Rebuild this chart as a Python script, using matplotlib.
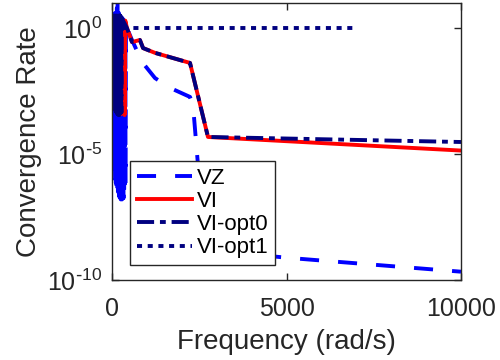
import numpy as np
import matplotlib
matplotlib.use("Agg")
import matplotlib.pyplot as plt
from matplotlib.ticker import NullLocator, FixedLocator, FixedFormatter

plt.rcParams['font.family'] = ['Liberation Sans', 'DejaVu Sans']
plt.rcParams['mathtext.default'] = 'regular'

# ---- data (frequency in rad/s, convergence rate given as log10 exponent) ----
vz_freq = [0, 10, 20, 30, 40, 50, 60, 70, 80, 90, 100, 110, 120, 130, 140, 150, 160, 170,
           180, 190, 200, 210, 220, 230, 240, 250, 260, 270, 280, 290, 300, 310, 320, 330,
           340, 350, 360, 370, 380, 390, 400,
           430, 573, 860, 1232, 1662, 2235, 2321, 2665, 5043, 10000]
vz_exp = [0.5, -4.7, 0.6, -5.2, 0.55, -5.5, 0.65, -5.8, 0.6, -6.0, 0.7, -6.15, 0.65, -6.3,
          0.8, -6.4, 1.2, -6.5, 0.7, -6.6, 0.6, -6.7, 0.5, -6.75, 0.5, -6.8, 0.45, -6.8,
          0.4, -6.8, 0.4, -6.8, 0.35, -6.75, 0.3, -6.7, 0.3, -6.5, 0.25, -6.2, 0.2,
          0.0, -0.47, -1.34, -1.98, -2.37, -2.73, -3.05, -8.8, -9.12, -9.67]

vi_freq = [0, 10, 20, 30, 40, 50, 60, 70, 80, 90, 100, 110, 120, 130, 140, 150, 160, 170,
           180, 190, 200, 210, 220, 230, 240, 250, 260, 270, 280, 290, 300,
           340, 360, 380,
           430, 573, 800, 890, 1232, 2235, 2750, 10000]
vi_exp = [0.3, -2.75, 0.3, -2.9, 0.3, -3.0, 0.3, -3.1, 0.3, -3.15, 0.3, -3.2, 0.3, -3.25,
          0.3, -3.3, 0.3, -3.35, 0.3, -3.35, 0.3, -3.4, 0.3, -3.4, 0.3, -3.4, 0.3, -3.4,
          0.3, -3.35, 0.3,
          0.3, -3.45, 0.3,
          0.0, -0.55, -0.47, -0.79, -0.98, -1.38, -4.32, -4.86]

opt0_freq = [0, 10, 20, 30, 40, 50, 60, 70, 80, 90, 100, 110, 120, 130, 140, 150, 160, 170,
             180, 190, 200, 210, 220, 230, 240, 250, 260, 270, 280,
             430, 573, 800, 890, 1232, 2235, 2750, 10000]
opt0_exp = [0.5, -2.85, 0.5, -3.0, 0.5, -3.1, 0.5, -3.2, 0.5, -3.25, 0.5, -3.3, 0.5, -3.35,
            0.5, -3.4, 0.5, -3.42, 0.5, -3.45, 0.5, -3.45, 0.5, -3.45, 0.5, -3.42, 0.5,
            -3.35, 0.4,
            0.0, -0.55, -0.47, -0.79, -0.98, -1.38, -4.32, -4.52]

opt1_freq = [0, 7000]
opt1_exp = [0.0, 0.0]

labels = ['VZ', 'VI', 'VI-opt0', 'VI-opt1']
xticks = [0, 5000, 10000]
xticklabels = ['0', '5000', '10000']
yticks = [1e-10, 1e-5, 1e0]
yticklabels = [r'$10^{\text{-}10}$', r'$10^{\text{-}5}$', r'$10^{0}$']

# ---- figure ----
fig = plt.figure(figsize=(5, 3.6), dpi=100)
ax = fig.add_axes([112/500, 1-280/360, (461-112)/500, (280-3)/360])

lw = 2.8
ax.plot(vz_freq, 10.0**np.array(vz_exp), color=(0, 0, 1), lw=lw, dashes=(4.9, 4.9),
        label=labels[0])
ax.plot(vi_freq, 10.0**np.array(vi_exp), color=(1, 0, 0), lw=lw, label=labels[1])
ax.plot(opt0_freq, 10.0**np.array(opt0_exp), color=(0, 0, 0.5), lw=lw,
        dashes=(4.4, 1.5, 1.5, 1.5), label=labels[2])
ax.plot(opt1_freq, 10.0**np.array(opt1_exp), color=(0, 0, 0.5), lw=lw,
        dashes=(1.3, 1.45), label=labels[3])

ax.set_yscale('log')
ax.set_xlim(0, 10000)
ax.set_ylim(1e-10, 10)
ax.xaxis.set_major_locator(FixedLocator(xticks))
ax.xaxis.set_major_formatter(FixedFormatter(xticklabels))
ax.yaxis.set_major_locator(FixedLocator(yticks))
ax.yaxis.set_major_formatter(FixedFormatter(yticklabels))
ax.yaxis.set_minor_locator(NullLocator())

dark = '#262626'
for s in ax.spines.values():
    s.set_color(dark)
    s.set_linewidth(1.0)
ax.tick_params(direction='in', top=True, right=True, length=5, width=1,
               labelsize=18, colors=dark)
ax.tick_params(axis='x', pad=12)
ax.tick_params(axis='y', pad=7)

ax.set_xlabel('Frequency (rad/s)', fontsize=20, color=dark, labelpad=6)
ax.set_ylabel('Convergence Rate', fontsize=20, color=dark, labelpad=4)

leg = ax.legend(loc='upper left', bbox_to_anchor=((130-112)/349, (280-161)/277),
                fontsize=16, handlelength=2.5, handletextpad=0.2,
                labelspacing=0.1, borderpad=0.3, borderaxespad=0,
                fancybox=False, framealpha=1, edgecolor=dark)
leg.get_frame().set_linewidth(1.0)

fig.savefig('out.png', dpi=100)
